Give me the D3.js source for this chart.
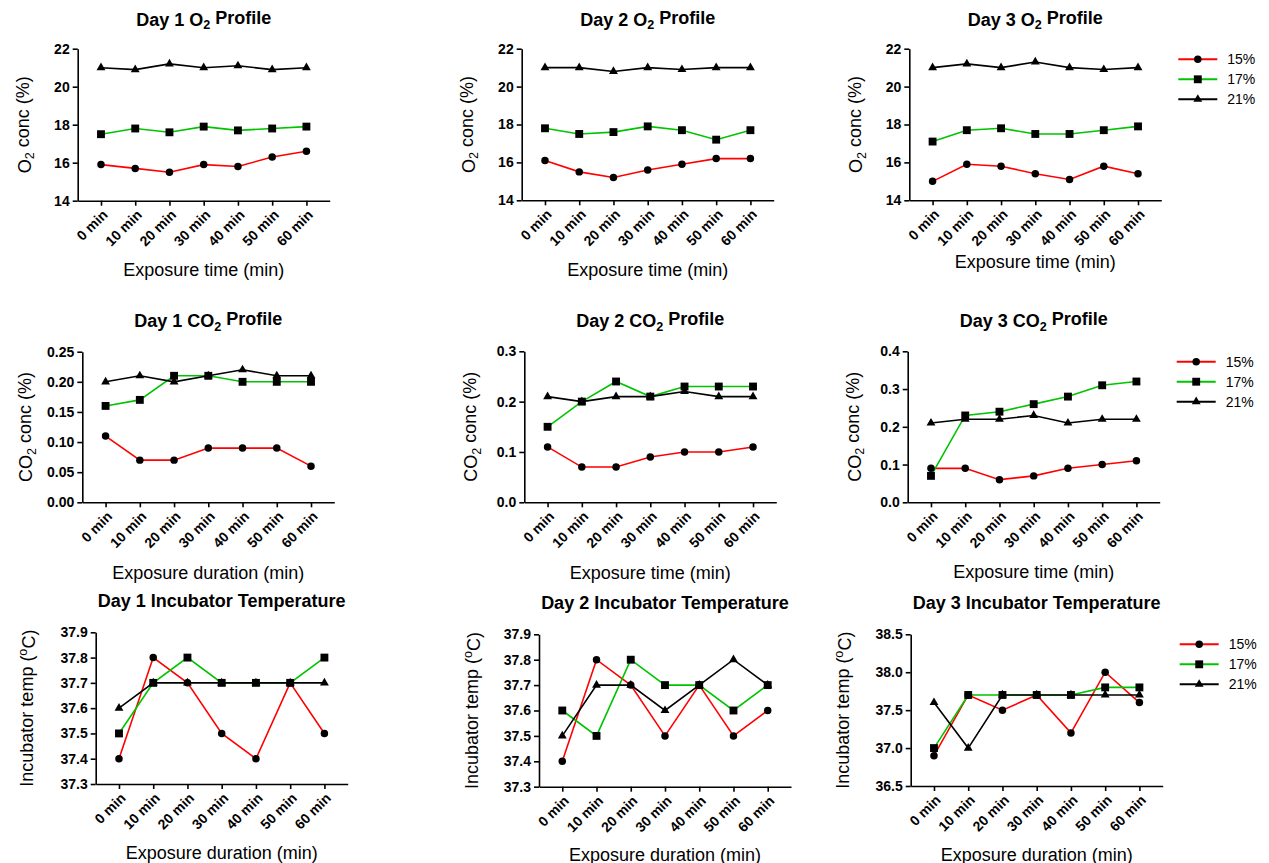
<!DOCTYPE html>
<html>
<head>
<meta charset="utf-8">
<title>O2, CO2 and incubator temperature profiles</title>
<style>
  body { margin: 0; background: #fff; }
  svg { font-family: Arial, "Liberation Sans", sans-serif; }
</style>
<script src="https://d3js.org/d3.v7.min.js"></script>
</head>
<body>
<script>
// categories and series
var categories = ["0 min", "10 min", "20 min", "30 min", "40 min", "50 min", "60 min"];
var seriesNames = ["15%", "17%", "21%"];

// O2 (%) — rows are 15%, 17%, 21%
var o2Day1 = [[15.9, 15.7, 15.5, 15.9, 15.8, 16.3, 16.6],
              [17.5, 17.8, 17.6, 17.9, 17.7, 17.8, 17.9],
              [21.0, 20.9, 21.2, 21.0, 21.1, 20.9, 21.0]];
var o2Day2 = [[16.1, 15.5, 15.2, 15.6, 15.9, 16.2, 16.2],
              [17.8, 17.5, 17.6, 17.9, 17.7, 17.2, 17.7],
              [21.0, 21.0, 20.8, 21.0, 20.9, 21.0, 21.0]];
var o2Day3 = [[15.0, 15.9, 15.8, 15.4, 15.1, 15.8, 15.4],
              [17.1, 17.7, 17.8, 17.5, 17.5, 17.7, 17.9],
              [21.0, 21.2, 21.0, 21.3, 21.0, 20.9, 21.0]];

// CO2 (%)
var co2Day1 = [[0.11, 0.07, 0.07, 0.09, 0.09, 0.09, 0.06],
               [0.16, 0.17, 0.21, 0.21, 0.20, 0.20, 0.20],
               [0.20, 0.21, 0.20, 0.21, 0.22, 0.21, 0.21]];
var co2Day2 = [[0.11, 0.07, 0.07, 0.09, 0.10, 0.10, 0.11],
               [0.15, 0.20, 0.24, 0.21, 0.23, 0.23, 0.23],
               [0.21, 0.20, 0.21, 0.21, 0.22, 0.21, 0.21]];
var co2Day3 = [[0.09, 0.09, 0.06, 0.07, 0.09, 0.10, 0.11],
               [0.07, 0.23, 0.24, 0.26, 0.28, 0.31, 0.32],
               [0.21, 0.22, 0.22, 0.23, 0.21, 0.22, 0.22]];

// incubator temperature (°C)
var tempDay1 = [[37.4, 37.8, 37.7, 37.5, 37.4, 37.7, 37.5],
                [37.5, 37.7, 37.8, 37.7, 37.7, 37.7, 37.8],
                [37.6, 37.7, 37.7, 37.7, 37.7, 37.7, 37.7]];
var tempDay2 = [[37.4, 37.8, 37.7, 37.5, 37.7, 37.5, 37.6],
                [37.6, 37.5, 37.8, 37.7, 37.7, 37.6, 37.7],
                [37.5, 37.7, 37.7, 37.6, 37.7, 37.8, 37.7]];
var tempDay3 = [[36.9, 37.7, 37.5, 37.7, 37.2, 38.0, 37.6],
                [37.0, 37.7, 37.7, 37.7, 37.7, 37.8, 37.8],
                [37.6, 37.0, 37.7, 37.7, 37.7, 37.7, 37.7]];

// y tick labels
var o2Ticks = [14, 16, 18, 20, 22];
var co2Day1Ticks = [0, 0.05, 0.10, 0.15, 0.20, 0.25];
var co2Day2Ticks = [0, 0.1, 0.2, 0.3];
var co2Day3Ticks = [0, 0.1, 0.2, 0.3, 0.4];
var tempTicks = [37.3, 37.4, 37.5, 37.6, 37.7, 37.8, 37.9];
var tempDay3Ticks = [36.5, 37.0, 37.5, 38.0, 38.5];

var colors = ["#ff0000", "#00c400", "#000000"];
var shapes = [d3.symbolCircle, d3.symbolSquare, d3.symbolTriangle];
var symSizes = [44, 62, 34];

var width = 1269, height = 863, axisW = 252;

var o2Label = [{t: "O"}, {t: "2", sub: true}, {t: " conc (%)"}];
var co2Label = [{t: "CO"}, {t: "2", sub: true}, {t: " conc (%)"}];
var tempLabel = [{t: "Incubator temp ("}, {t: "o", sup: true}, {t: "C)"}];

var panels = [
  {title: [{t: "Day 1 O"}, {t: "2", sub: true}, {t: " Profile"}], data: o2Day1, ticks: o2Ticks, fmt: "d",
   yLab: o2Label, xLab: "Exposure time (min)", left: 77.7, top: 48.7, bottom: 200.7, titleY: 25.5, xLabY: 276, yLabGap: 47},
  {title: [{t: "Day 2 O"}, {t: "2", sub: true}, {t: " Profile"}], data: o2Day2, ticks: o2Ticks, fmt: "d",
   yLab: o2Label, xLab: "Exposure time (min)", left: 521.7, top: 48.7, bottom: 200.3, titleY: 25.5, xLabY: 276, yLabGap: 47},
  {title: [{t: "Day 3 O"}, {t: "2", sub: true}, {t: " Profile"}], data: o2Day3, ticks: o2Ticks, fmt: "d",
   yLab: o2Label, xLab: "Exposure time (min)", left: 909.3, top: 48.7, bottom: 200.3, titleY: 25.5, xLabY: 268, yLabGap: 47, legend: 59.3},
  {title: [{t: "Day 1 CO"}, {t: "2", sub: true}, {t: " Profile"}], data: co2Day1, ticks: co2Day1Ticks, fmt: ".2f",
   yLab: co2Label, xLab: "Exposure duration (min)", left: 82.3, top: 351.7, bottom: 502.3, titleY: 327, xLabY: 579, yLabGap: 50},
  {title: [{t: "Day 2 CO"}, {t: "2", sub: true}, {t: " Profile"}], data: co2Day2, ticks: co2Day2Ticks, fmt: ".1f",
   yLab: co2Label, xLab: "Exposure time (min)", left: 524.3, top: 351.3, bottom: 502.3, titleY: 327, xLabY: 579, yLabGap: 47},
  {title: [{t: "Day 3 CO"}, {t: "2", sub: true}, {t: " Profile"}], data: co2Day3, ticks: co2Day3Ticks, fmt: ".1f",
   yLab: co2Label, xLab: "Exposure time (min)", left: 907.7, top: 351.3, bottom: 502.3, titleY: 327, xLabY: 578, yLabGap: 47, legend: 361.7},
  {title: [{t: "Day 1 Incubator Temperature"}], data: tempDay1, ticks: tempTicks, fmt: ".1f",
   yLab: tempLabel, xLab: "Exposure duration (min)", left: 95.7, top: 632.3, bottom: 784, titleY: 607, xLabY: 859, yLabGap: 63},
  {title: [{t: "Day 2 Incubator Temperature"}], data: tempDay2, ticks: tempTicks, fmt: ".1f",
   yLab: tempLabel, xLab: "Exposure duration (min)", left: 539, top: 634.3, bottom: 786.7, titleY: 608.5, xLabY: 861, yLabGap: 61},
  {title: [{t: "Day 3 Incubator Temperature"}], data: tempDay3, ticks: tempDay3Ticks, fmt: ".1f",
   yLab: tempLabel, xLab: "Exposure duration (min)", left: 910.7, top: 634.3, bottom: 786, titleY: 608.5, xLabY: 861, yLabGap: 62, legend: 644.3}
];

var svg = d3.select("body").append("svg")
    .attr("width", width)
    .attr("height", height);

// writes text with sub/superscript parts
function richText(sel, parts) {
  parts.forEach(function(p, i) {
    var ts = sel.append("tspan").text(p.t);
    if (p.sub) ts.attr("font-size", "0.7em").attr("dy", "0.3em");
    else if (p.sup) ts.attr("font-size", "0.7em").attr("dy", "-0.45em");
    var prev = parts[i - 1];
    if (prev && prev.sub) ts.attr("dy", "-0.3em");
    if (prev && prev.sup) ts.attr("dy", "0.45em");
  });
}

panels.forEach(function(p) {
  var g = svg.append("g");
  var x = d3.scalePoint().domain(categories).range([p.left, p.left + axisW]).padding(0.68);
  var y = d3.scaleLinear().domain(d3.extent(p.ticks)).range([p.bottom, p.top]);
  var mid = p.left + axisW / 2;

  // title
  richText(g.append("text")
      .attr("x", mid).attr("y", p.titleY)
      .attr("text-anchor", "middle")
      .attr("font-size", 18).attr("font-weight", "bold"), p.title);

  // axes
  var yAxis = g.append("g")
      .attr("transform", "translate(" + p.left + ",0)")
      .call(d3.axisLeft(y).tickValues(p.ticks).tickFormat(d3.format(p.fmt)).tickSize(5).tickSizeOuter(0).tickPadding(3));
  var xAxis = g.append("g")
      .attr("transform", "translate(0," + p.bottom + ")")
      .call(d3.axisBottom(x).tickSize(5).tickSizeOuter(0));
  [xAxis, yAxis].forEach(function(a) {
    a.selectAll("path, line").attr("stroke", "#000").attr("stroke-width", 1.6);
    a.selectAll("text").attr("fill", "#000").attr("font-size", 14).attr("font-weight", "bold")
      .attr("font-family", "Arial, 'Liberation Sans', sans-serif");
  });
  xAxis.selectAll("text")
      .attr("y", 0).attr("dy", 0)
      .attr("text-anchor", "end")
      .attr("transform", "translate(7,15) rotate(-45)");

  // axis labels
  g.append("text")
      .attr("x", mid).attr("y", p.xLabY)
      .attr("text-anchor", "middle").attr("font-size", 18)
      .text(p.xLab);
  richText(g.append("text")
      .attr("transform", "translate(" + (p.left - p.yLabGap) + "," + ((p.top + p.bottom) / 2) + ") rotate(-90)")
      .attr("text-anchor", "middle").attr("font-size", 18), p.yLab);

  // series
  var line = d3.line().x(function(d, i) { return x(categories[i]); }).y(function(d) { return y(d); });
  p.data.forEach(function(vals, s) {
    g.append("path")
        .attr("d", line(vals))
        .attr("fill", "none").attr("stroke", colors[s]).attr("stroke-width", 1.6);
  });
  p.data.forEach(function(vals, s) {
    g.selectAll(null).data(vals).enter().append("path")
        .attr("transform", function(d, i) { return "translate(" + x(categories[i]) + "," + y(d) + ")"; })
        .attr("d", d3.symbol().type(shapes[s]).size(symSizes[s]))
        .attr("fill", "#000");
  });

  // legend
  if (p.legend !== undefined) {
    var lx = p.left + 269;
    seriesNames.forEach(function(name, s) {
      var ly = p.legend + s * 20;
      g.append("line").attr("x1", lx).attr("x2", lx + 39).attr("y1", ly).attr("y2", ly)
          .attr("stroke", colors[s]).attr("stroke-width", 2);
      g.append("path").attr("transform", "translate(" + (lx + 19.5) + "," + ly + ")")
          .attr("d", d3.symbol().type(shapes[s]).size(symSizes[s])).attr("fill", "#000");
      g.append("text").attr("x", lx + 49).attr("y", ly + 5).attr("font-size", 14).text(name);
    });
  }
});
</script>
</body>
</html>
